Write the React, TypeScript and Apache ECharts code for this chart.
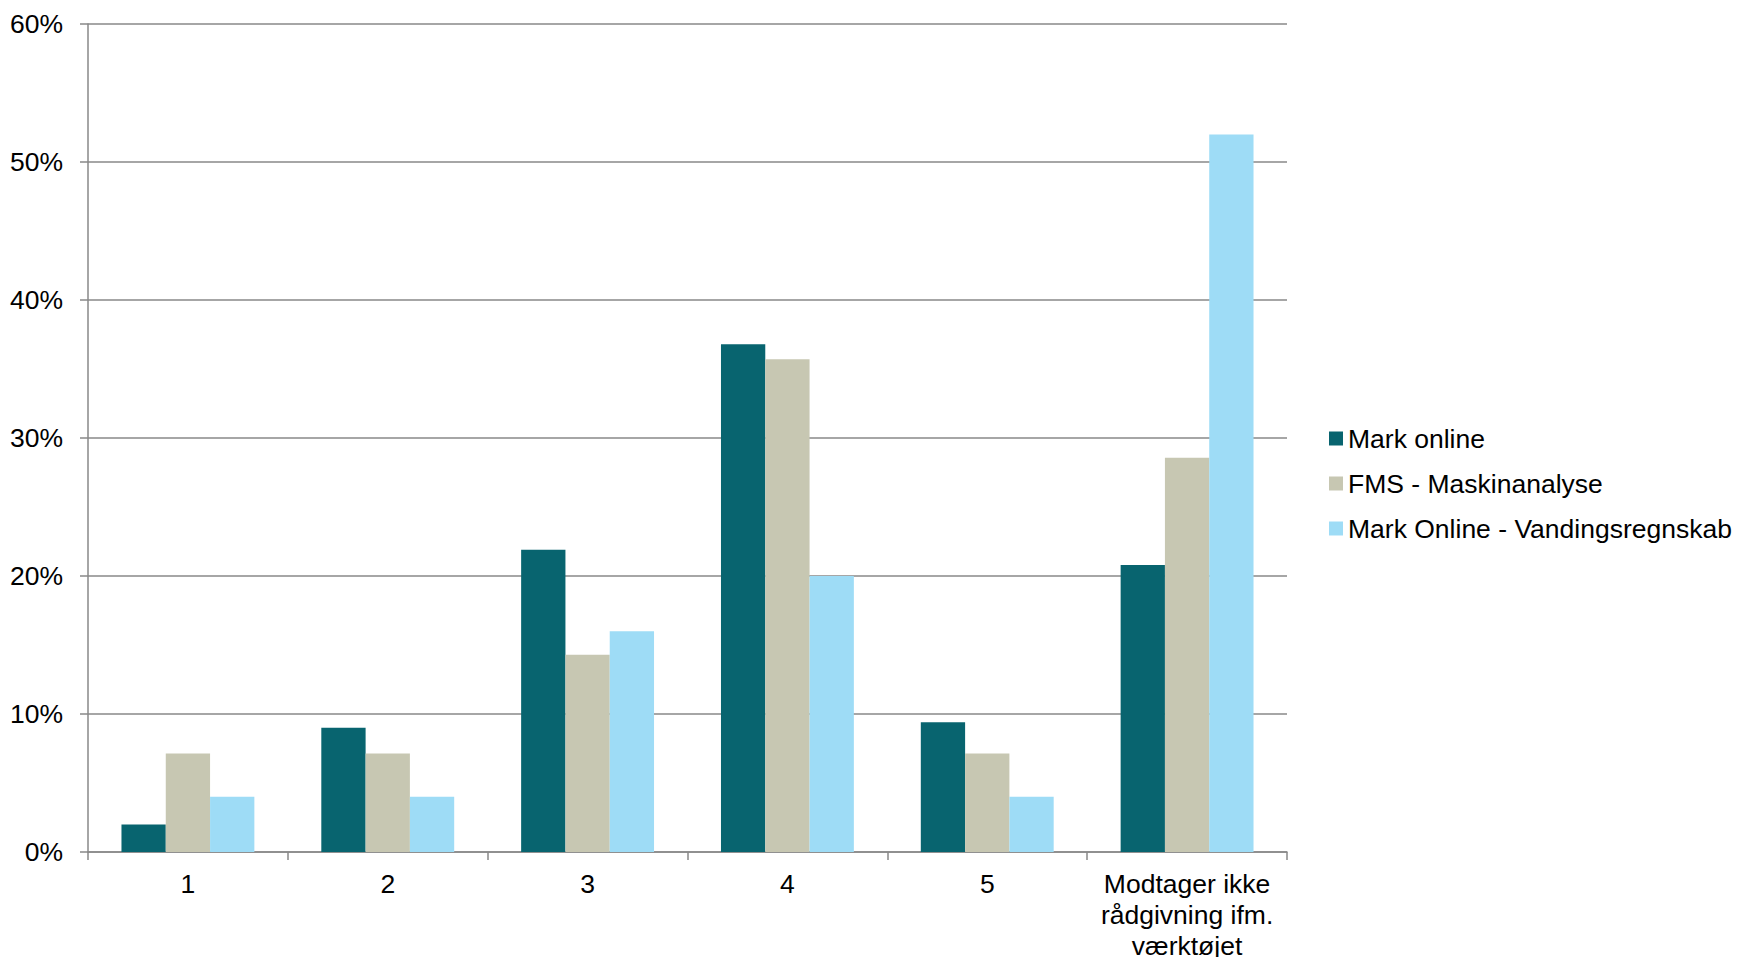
import React, { useEffect, useRef } from "react";
import * as echarts from "echarts";

const categories = ["1", "2", "3", "4", "5", "Modtager ikke\nrådgivning ifm.\nværktøjet"];
const seriesNames = ["Mark online", "FMS - Maskinanalyse", "Mark Online - Vandingsregnskab"];
const markOnline = [2.0, 9.0, 21.9, 36.8, 9.4, 20.8];
const fmsMaskinanalyse = [7.14, 7.14, 14.29, 35.71, 7.14, 28.57];
const vandingsregnskab = [4, 4, 16, 20, 4, 52];
const colors = ["#08646F", "#C7C7B2", "#9EDCF6"];
const yTicks = [0, 10, 20, 30, 40, 50, 60];

const FONT = "'Liberation Sans', Arial, sans-serif";
const FS = 26.5;

export default function App() {
  const ref = useRef<HTMLDivElement>(null);
  useEffect(() => {
    if (!ref.current) return;
    const chart = echarts.init(ref.current, null, { renderer: "svg" });
    const values = [markOnline, fmsMaskinanalyse, vandingsregnskab];
    chart.setOption({
      animation: false,
      textStyle: { fontFamily: FONT },
      grid: { left: 88, right: 452, top: 24, bottom: 105, containLabel: false, outerBoundsMode: "none" },
      legend: {
        orient: "vertical",
        left: 1324,
        top: 420,
        itemWidth: 14,
        itemHeight: 14,
        itemGap: 18,
        icon: "rect",
        textStyle: { fontSize: FS, lineHeight: 24, color: "#000", fontFamily: FONT },
        data: seriesNames,
      },
      xAxis: {
        type: "category",
        data: categories,
        boundaryGap: true,
        axisLine: { lineStyle: { color: "#898989", width: 1.5 } },
        axisTick: { show: true, length: 8, alignWithLabel: false, lineStyle: { color: "#898989", width: 1.5 } },
        axisLabel: { fontSize: FS, color: "#000", lineHeight: 31, margin: 16, interval: 0, fontFamily: FONT },
      },
      yAxis: {
        type: "value",
        min: 0,
        max: 60,
        interval: 10,
        axisLine: { show: true, lineStyle: { color: "#898989", width: 1.5 } },
        axisTick: { show: true, length: 8, lineStyle: { color: "#898989", width: 1.5 } },
        splitLine: { lineStyle: { color: "#898989", width: 1.5 } },
        axisLabel: {
          fontSize: FS,
          color: "#000",
          margin: 25,
          fontFamily: FONT,
          formatter: (v: number) => (yTicks.includes(v) ? v + "%" : ""),
        },
      },
      series: seriesNames.map((name, i) => ({
        name,
        type: "bar",
        data: values[i],
        barGap: "0%",
        barCategoryGap: "33.5%",
        itemStyle: { color: colors[i] },
      })),
    });
    return () => chart.dispose();
  }, []);
  return (
    <div
      ref={ref}
      style={{ position: "fixed", left: 0, top: 0, width: 1739, height: 957, background: "#fff" }}
    />
  );
}
